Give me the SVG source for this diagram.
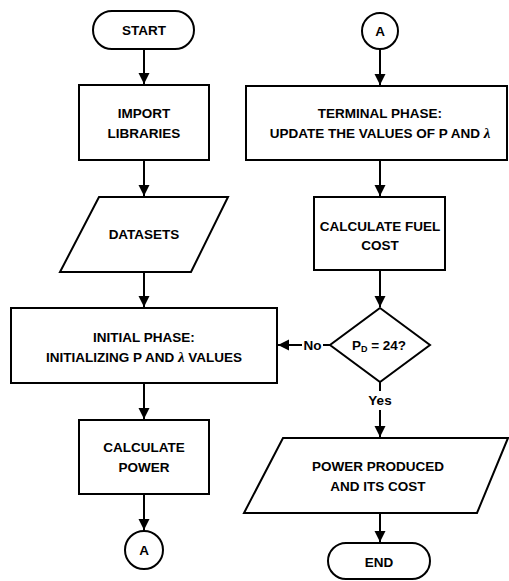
<svg xmlns="http://www.w3.org/2000/svg" width="509" height="581" viewBox="0 0 509 581">
<defs>
<style>
.s{fill:#fff;stroke:#000;stroke-width:2}
.t{font-family:"Liberation Sans",Arial,sans-serif;font-weight:bold;font-size:13.5px;fill:#000;text-anchor:middle}
.c{fill:none;stroke:#000;stroke-width:2}
.l{font-family:"Liberation Serif","DejaVu Serif",serif;font-style:italic;font-weight:bold;font-size:15px}
</style>
<marker id="ah" markerUnits="userSpaceOnUse" markerWidth="12" markerHeight="12" refX="11" refY="5.5" orient="auto">
<path d="M0,0 L11,5.5 L0,11 z" fill="#000"/>
</marker>
</defs>
<rect width="509" height="581" fill="#fff"/>
<g id="connectors">
<path class="c" d="M144,49 V84" marker-end="url(#ah)"/>
<path class="c" d="M144,160 V196" marker-end="url(#ah)"/>
<path class="c" d="M144,272 V307" marker-end="url(#ah)"/>
<path class="c" d="M144,383 V419" marker-end="url(#ah)"/>
<path class="c" d="M144,494 V530" marker-end="url(#ah)"/>
<path class="c" d="M380,49 V85" marker-end="url(#ah)"/>
<path class="c" d="M380,160 V196" marker-end="url(#ah)"/>
<path class="c" d="M380,270 V307" marker-end="url(#ah)"/>
<path class="c" d="M330,345 H323"/>
<path class="c" d="M302,345 H278" marker-end="url(#ah)"/>
<text class="t" x="312.5" y="350">No</text>
<path class="c" d="M380,382 V391"/>
<path class="c" d="M380,410 V437" marker-end="url(#ah)"/>
<text class="t" x="380" y="405">Yes</text>
<path class="c" d="M380,513 V542" marker-end="url(#ah)"/>
</g>
<g id="start">
<rect class="s" x="93" y="11" width="101" height="38" rx="19"/>
<text class="t" x="144" y="35">START</text>
</g>
<g id="import">
<rect class="s" x="79" y="85" width="130" height="75"/>
<text class="t" x="144" y="118">IMPORT</text>
<text class="t" x="144" y="138">LIBRARIES</text>
</g>
<g id="datasets">
<polygon class="s" points="99,197 228,197 191,272 60,272"/>
<text class="t" x="144" y="239">DATASETS</text>
</g>
<g id="initial">
<rect class="s" x="11" y="308" width="266" height="75"/>
<text class="t" x="144" y="342">INITIAL PHASE:</text>
<text class="t" x="144" y="362">INITIALIZING P AND <tspan class="l">λ</tspan> VALUES</text>
</g>
<g id="calcpower">
<rect class="s" x="79" y="420" width="130" height="74"/>
<text class="t" x="144" y="452">CALCULATE</text>
<text class="t" x="144" y="472">POWER</text>
</g>
<g id="connA1">
<circle class="s" cx="144" cy="550" r="19"/>
<text class="t" x="144" y="555">A</text>
</g>
<g id="connA2">
<circle class="s" cx="380" cy="31" r="18"/>
<text class="t" x="380" y="36">A</text>
</g>
<g id="terminal">
<rect class="s" x="246" y="86" width="261" height="74"/>
<text class="t" x="380" y="118">TERMINAL PHASE:</text>
<text class="t" x="380" y="138">UPDATE THE VALUES OF P AND <tspan class="l">λ</tspan></text>
</g>
<g id="fuelcost">
<rect class="s" x="314" y="197" width="131" height="73"/>
<text class="t" x="380" y="231">CALCULATE FUEL</text>
<text class="t" x="380" y="250">COST</text>
</g>
<g id="decision">
<polygon class="s" points="380,308 430,345 380,382 330,345"/>
<text class="t" x="379" y="350">P<tspan font-size="9" dy="2">D</tspan><tspan dy="-2"> = 24?</tspan></text>
</g>
<g id="output">
<polygon class="s" points="283,438 508,438 477,513 244,513"/>
<text class="t" x="378" y="471">POWER PRODUCED</text>
<text class="t" x="378" y="491">AND ITS COST</text>
</g>
<g id="end">
<rect class="s" x="328" y="543" width="102" height="36" rx="18"/>
<text class="t" x="379" y="567">END</text>
</g>
</svg>
